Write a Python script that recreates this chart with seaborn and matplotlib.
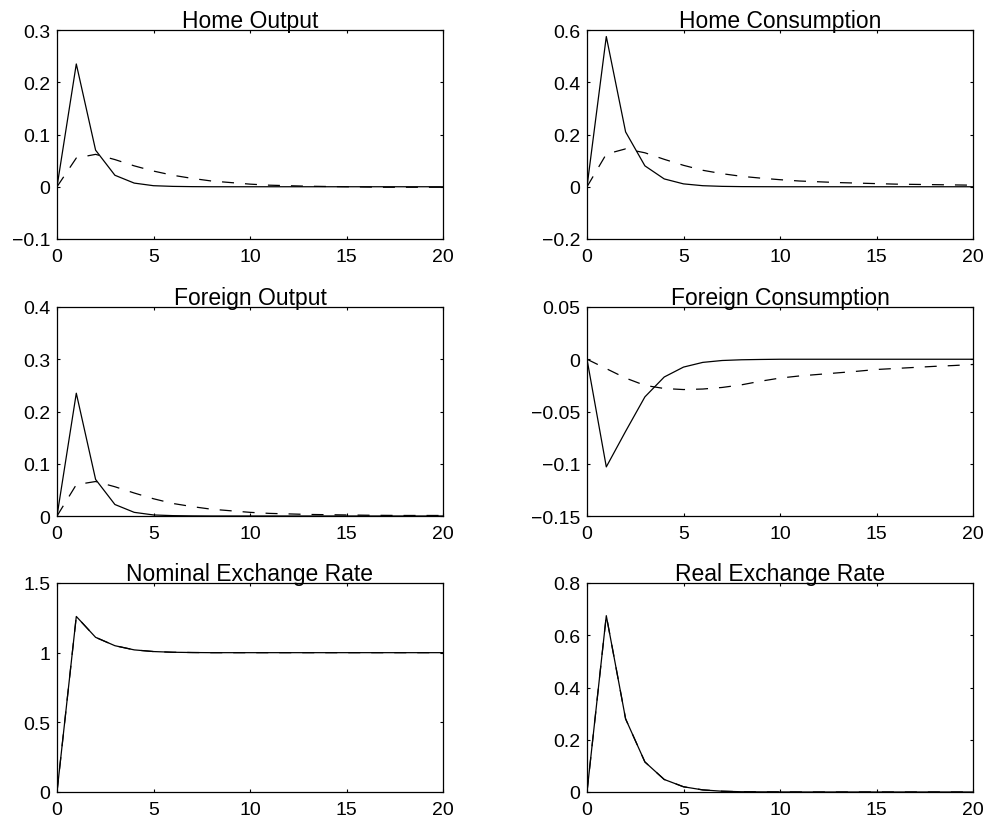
"""
脉冲响应图 - 3x2 子图 (MATLAB 风格)
"""

import matplotlib
matplotlib.use('Agg')
import matplotlib.pyplot as plt
import seaborn as sns
import numpy as np
import pandas as pd

# 数据: 期数 0..20
periods = list(range(21))

home_output_solid = [0, 0.235, 0.070, 0.022, 0.007, 0.002, 0.0007, 0.0002, 0, 0, 0,
                     0, 0, 0, 0, 0, 0, 0, 0, 0, 0]
home_output_dash = [0, 0.055, 0.062, 0.052, 0.040, 0.030, 0.022, 0.016, 0.011, 0.008, 0.005,
                    0.003, 0.002, 0.001, 0.0005, 0, -0.0005, -0.001, -0.001, -0.001, -0.001]

home_cons_solid = [0, 0.575, 0.210, 0.080, 0.030, 0.011, 0.004, 0.0015, 0.0005, 0.0002, 0,
                   0, 0, 0, 0, 0, 0, 0, 0, 0, 0]
home_cons_dash = [0, 0.125, 0.145, 0.130, 0.105, 0.082, 0.063, 0.050, 0.040, 0.033, 0.027,
                  0.022, 0.019, 0.016, 0.014, 0.012, 0.010, 0.009, 0.008, 0.007, 0.006]

foreign_output_solid = [0, 0.235, 0.070, 0.022, 0.007, 0.002, 0.0007, 0.0002, 0, 0, 0,
                        0, 0, 0, 0, 0, 0, 0, 0, 0, 0]
foreign_output_dash = [0, 0.060, 0.066, 0.056, 0.044, 0.033, 0.024, 0.018, 0.013, 0.010, 0.007,
                       0.005, 0.004, 0.003, 0.0025, 0.002, 0.0015, 0.0012, 0.001, 0.001, 0.001]

foreign_cons_solid = [0, -0.103, -0.069, -0.036, -0.017, -0.0075, -0.003, -0.0012, -0.0005, -0.0002, 0,
                      0, 0, 0, 0, 0, 0, 0, 0, 0, 0]
foreign_cons_dash = [0, -0.009, -0.018, -0.025, -0.028, -0.029, -0.0285, -0.027, -0.0245, -0.021, -0.018,
                     -0.016, -0.0145, -0.013, -0.0115, -0.0098, -0.0088, -0.0078, -0.0068, -0.006, -0.005]

nominal_solid = [0, 1.26, 1.11, 1.05, 1.02, 1.008, 1.003, 1.001, 1.0, 1.0, 1.0,
                 1.0, 1.0, 1.0, 1.0, 1.0, 1.0, 1.0, 1.0, 1.0, 1.0]
nominal_dash = [0, 1.26, 1.11, 1.05, 1.02, 1.008, 1.003, 1.001, 1.0, 1.0, 1.0,
                1.0, 1.0, 1.0, 1.0, 1.0, 1.0, 1.0, 1.0, 1.0, 1.0]

real_solid = [0, 0.675, 0.280, 0.115, 0.048, 0.020, 0.008, 0.003, 0.001, 0.0005, 0.0002,
              0, 0, 0, 0, 0, 0, 0, 0, 0, 0]
real_dash = [0, 0.675, 0.280, 0.115, 0.048, 0.020, 0.008, 0.003, 0.001, 0.0005, 0.0002,
             0, 0, 0, 0, 0, 0, 0, 0, 0, 0]

titles = ['Home Output', 'Home Consumption', 'Foreign Output',
          'Foreign Consumption', 'Nominal Exchange Rate', 'Real Exchange Rate']
solid_series = [home_output_solid, home_cons_solid, foreign_output_solid,
                foreign_cons_solid, nominal_solid, real_solid]
dash_series = [home_output_dash, home_cons_dash, foreign_output_dash,
               foreign_cons_dash, nominal_dash, real_dash]
y_ticks = [
    [-0.1, 0, 0.1, 0.2, 0.3],
    [-0.2, 0, 0.2, 0.4, 0.6],
    [0, 0.1, 0.2, 0.3, 0.4],
    [-0.15, -0.1, -0.05, 0, 0.05],
    [0, 0.5, 1, 1.5],
    [0, 0.2, 0.4, 0.6, 0.8],
]
x_ticks = [0, 5, 10, 15, 20]

sns.set_style('ticks')
plt.rcParams['font.family'] = ['Liberation Sans', 'DejaVu Sans']
plt.rcParams['font.size'] = 14
plt.rcParams['text.color'] = 'black'
plt.rcParams['xtick.color'] = 'black'
plt.rcParams['ytick.color'] = 'black'
plt.rcParams['xtick.direction'] = 'in'
plt.rcParams['ytick.direction'] = 'in'

W, H = 989, 828
fig = plt.figure(figsize=(W / 100, H / 100), dpi=100)

# 子图位置 (像素)
col_left = [57, 587]
row_top = [31, 308, 584]
ax_w, ax_h = 386, 209


def fmt(v):
    s = f'{v:g}'
    return s.replace('-', '\u2212')


for i, title in enumerate(titles):
    r, c = divmod(i, 2)
    rect = [col_left[c] / W, 1 - (row_top[r] + ax_h) / H, ax_w / W, ax_h / H]
    ax = fig.add_axes(rect)

    df = pd.DataFrame({'t': periods, 'solid': solid_series[i], 'dash': dash_series[i]})
    sns.lineplot(data=df, x='t', y='solid', ax=ax, color='black', linewidth=0.9)
    sns.lineplot(data=df, x='t', y='dash', ax=ax, color='black', linewidth=0.9,
                 linestyle=(0, (9.6, 8.8)))

    yt = y_ticks[i]
    ax.set_xlim(0, 20)
    ax.set_ylim(yt[0], yt[-1])
    ax.set_xticks(x_ticks)
    ax.set_xticklabels([fmt(v) for v in x_ticks])
    ax.set_yticks(yt)
    ax.set_yticklabels([fmt(v) for v in yt])
    ax.set_xlabel('')
    ax.set_ylabel('')
    ax.tick_params(top=True, right=True, length=2.5, width=0.8, labelsize=14,
                   colors='black')
    ax.tick_params(axis='x', pad=6.6)
    ax.tick_params(axis='y', pad=4.8)
    for sp in ax.spines.values():
        sp.set_linewidth(0.9)
        sp.set_color('black')
        sp.set_visible(True)

    ax.annotate(title, xy=(0.5, 1.0), xycoords='axes fraction',
                xytext=(0, 2.5), textcoords='offset points',
                ha='center', va='baseline', fontsize=16.5, color='black')

plt.savefig('out.png', dpi=100)
plt.close()
